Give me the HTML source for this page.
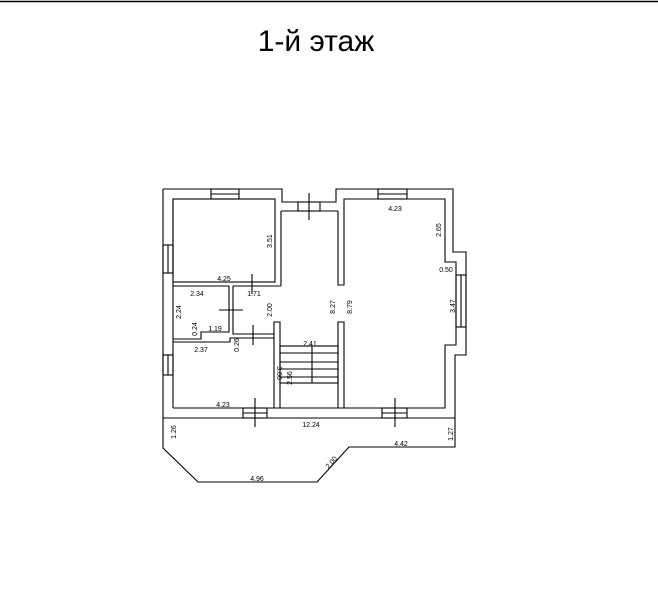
<!DOCTYPE html>
<html><head><meta charset="utf-8"><style>
html,body{margin:0;padding:0;background:#fff;}
svg{display:block;}
text{font-family:"Liberation Sans",sans-serif;fill:#000;}
</style></head><body>
<svg width="658" height="600" viewBox="0 0 658 600" xmlns="http://www.w3.org/2000/svg">
<line x1="0" y1="1.5" x2="658" y2="1.5" stroke="#000" stroke-width="1.5"/>
<text x="316" y="51" font-size="30" text-anchor="middle">1-й этаж</text>
<g fill="none" stroke="#000" stroke-width="1.1">
<!-- outer -->
<polyline points="163,189 282,189 282,202 336,202 336,189 453,189 453,252 466,252 466,355 455,355 455,418 163,418 163,189"/>
<!-- left room -->
<rect x="173" y="199" width="102" height="83"/>
<line x1="281" y1="211" x2="281" y2="286"/>
<line x1="233" y1="286" x2="281" y2="286"/>
<line x1="173" y1="286" x2="229" y2="286"/>
<!-- entrance -->
<line x1="281" y1="211" x2="338" y2="211"/>
<polyline points="338,211 338,285 344,285 344,199 445,199 445,262 456,262 456,345 445,345 445,408 344,408 344,322 338,322 338,408"/>
<!-- stair wall -->
<polyline points="274,408 274,322 280,322 280,408"/>
<!-- small rooms -->
<polyline points="229,286 229,332 201,332 201,339 173,339"/>
<polyline points="233,286 233,334 274,334"/>
<polyline points="173,342 230,342 230,338 274,338"/>
<!-- inner left & bottom -->
<line x1="173" y1="199" x2="173" y2="408"/>
<line x1="173" y1="408" x2="445" y2="408"/>
<!-- stairs -->
<rect x="280" y="346" width="58" height="37"/>
<line x1="312" y1="346" x2="312" y2="383"/>
<line x1="280" y1="353" x2="338" y2="353"/>
<line x1="280" y1="362" x2="338" y2="362"/>
<line x1="280" y1="369" x2="338" y2="369"/>
<line x1="280" y1="377" x2="338" y2="377"/>
<!-- windows -->
<rect x="211" y="189" width="28" height="10"/><line x1="211" y1="194" x2="239" y2="194"/>
<rect x="378" y="189" width="29" height="10"/><line x1="378" y1="194" x2="407" y2="194"/>
<rect x="163" y="245" width="10" height="28"/><line x1="168" y1="245" x2="168" y2="273"/>
<rect x="163" y="355" width="10" height="20"/><line x1="168" y1="355" x2="168" y2="375"/>
<rect x="456" y="275" width="10" height="52"/><line x1="461" y1="275" x2="461" y2="327"/>
<rect x="243" y="408" width="24" height="10"/><line x1="243" y1="413" x2="267" y2="413"/>
<rect x="382" y="408" width="25" height="10"/><line x1="382" y1="413" x2="407" y2="413"/>
<!-- doors -->
<rect x="298" y="202" width="22" height="9"/>
<line x1="309" y1="193" x2="309" y2="220"/>
<line x1="255" y1="398" x2="255" y2="427"/>
<line x1="395" y1="398" x2="395" y2="427"/>
<line x1="252" y1="274" x2="252" y2="294"/>
<line x1="219" y1="310" x2="243" y2="310"/>
<line x1="253" y1="325" x2="253" y2="345"/>
<!-- porch -->
<polyline points="163,418 163,448 198,482 317,482 349,447 455,447 455,418"/>
</g>
<g font-size="7">
<text x="395" y="211" text-anchor="middle">4.23</text>
<text x="224" y="281" text-anchor="middle">4.25</text>
<text x="254" y="296" text-anchor="middle">1.71</text>
<text x="197" y="296" text-anchor="middle">2.34</text>
<text x="446" y="272" text-anchor="middle">0.50</text>
<text x="215" y="331" text-anchor="middle">1.19</text>
<text x="201" y="352" text-anchor="middle">2.37</text>
<text x="310" y="346" text-anchor="middle">2.41</text>
<text x="223" y="407" text-anchor="middle">4.23</text>
<text x="311" y="427" text-anchor="middle">12.24</text>
<text x="401" y="446" text-anchor="middle">4.42</text>
<text x="257" y="481" text-anchor="middle">4.96</text>
<text transform="translate(272,241) rotate(-90)" text-anchor="middle">3.51</text>
<text transform="translate(441,230) rotate(-90)" text-anchor="middle">2.65</text>
<text transform="translate(455,306) rotate(-90)" text-anchor="middle">3.47</text>
<text transform="translate(181,312) rotate(-90)" text-anchor="middle">2.24</text>
<text transform="translate(272,310) rotate(-90)" text-anchor="middle">2.00</text>
<text transform="translate(335,307) rotate(-90)" text-anchor="middle">8.27</text>
<text transform="translate(352,307) rotate(-90)" text-anchor="middle">8.79</text>
<text transform="translate(197,329) rotate(-90)" text-anchor="middle">0.24</text>
<text transform="translate(239,345) rotate(-90)" text-anchor="middle">0.26</text>
<text transform="translate(277,373) rotate(90)" text-anchor="middle">3.00</text>
<text transform="translate(292,378) rotate(-90)" text-anchor="middle">2.56</text>
<text transform="translate(176,432) rotate(-90)" text-anchor="middle">1.26</text>
<text transform="translate(453,434) rotate(-90)" text-anchor="middle">1.27</text>
<text transform="translate(333,464) rotate(-48)" text-anchor="middle">2.00</text>
</g>
</svg>
</body></html>
